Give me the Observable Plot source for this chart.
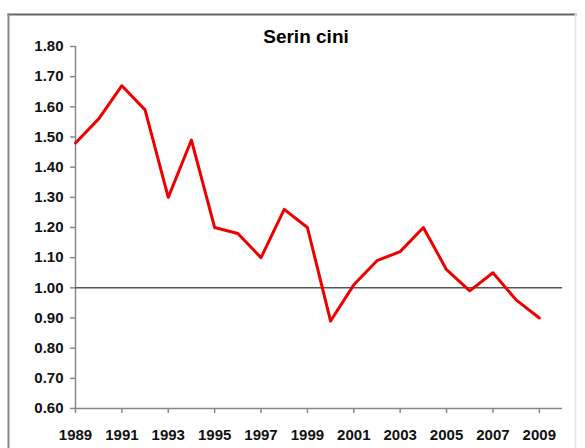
<!DOCTYPE html>
<html>
<head>
<meta charset="utf-8">
<script src="https://cdn.jsdelivr.net/npm/d3@7"></script>
<script src="https://cdn.jsdelivr.net/npm/@observablehq/plot@0.6"></script>
<style>
  html, body { margin: 0; padding: 0; background: #fff; }
  #chart svg { display: block; }
</style>
</head>
<body>
<div id="chart"></div>
<script>
const title = "Serin cini";
const years = [1989,1990,1991,1992,1993,1994,1995,1996,1997,1998,1999,2000,2001,2002,2003,2004,2005,2006,2007,2008,2009];
const values = [1.48,1.56,1.67,1.59,1.30,1.49,1.20,1.18,1.10,1.26,1.20,0.89,1.01,1.09,1.12,1.20,1.06,0.99,1.05,0.96,0.90];
const xTicks = [1989,1991,1993,1995,1997,1999,2001,2003,2005,2007,2009];
const yTicks = [0.6,0.7,0.8,0.9,1.0,1.1,1.2,1.3,1.4,1.5,1.6,1.7,1.8];
const referenceLevel = [1.0];

const data = years.map((y, i) => ({year: y, value: values[i]}));

const chart = Plot.plot({
  width: 585,
  height: 448,
  marginLeft: 75,
  marginTop: 46,
  marginBottom: 40,
  marginRight: 23,
  style: {fontFamily: "'Liberation Sans', Arial, sans-serif", background: "#fff"},
  x: {domain: [1989, 2010]},
  y: {domain: [0.6, 1.8]},
  marks: [
    Plot.frame({anchor: "top", insetTop: -32, insetLeft: -67, insetRight: -13, stroke: "#666", strokeWidth: 2}),
    Plot.frame({anchor: "left", insetTop: -32, insetLeft: -67, insetBottom: -60, stroke: "#888", strokeWidth: 2}),
    Plot.frame({anchor: "right", insetTop: -32, insetRight: -13, insetBottom: -60, stroke: "#e4e4e4", strokeWidth: 1.5}),
    Plot.axisY({ticks: yTicks, tickFormat: d3.format(".2f"), tickSize: 5, tickPadding: 7,
      fontSize: 15, fontWeight: "bold", stroke: "#888", strokeWidth: 1.5, color: "#111", label: null,
      style: {letterSpacing: "0px"}}),
    Plot.axisX({ticks: xTicks, tickFormat: d3.format("d"), tickSize: 5, tickPadding: 16,
      fontSize: 15, fontWeight: "bold", stroke: "#888", strokeWidth: 1.5, color: "#111", label: null,
      style: {letterSpacing: "-0.2px"}}),
    Plot.ruleX([1989], {stroke: "#888", strokeWidth: 1.5}),
    Plot.ruleY([0.6], {stroke: "#888", strokeWidth: 1.5}),
    Plot.ruleY(referenceLevel, {stroke: "#555", strokeWidth: 1.5}),
    Plot.line(data, {x: "year", y: "value", stroke: "#ee0000", strokeWidth: 3, strokeLinejoin: "round"}),
    Plot.text([title], {frameAnchor: "top", dx: -13, dy: -17, text: d => d, fontSize: 19,
      fontWeight: "bold", fill: "#000", style: {letterSpacing: "-0.6px"}})
  ]
});
document.getElementById("chart").appendChild(chart);
</script>
</body>
</html>
